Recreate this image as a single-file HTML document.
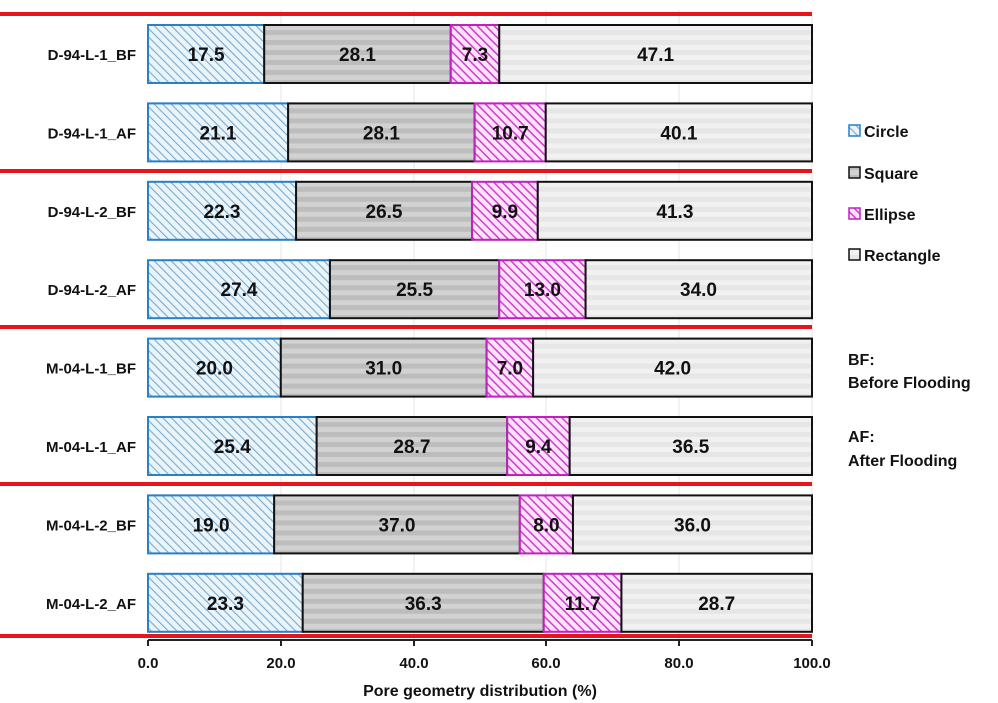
<!DOCTYPE html>
<html><head><meta charset="utf-8"><style>body{margin:0;background:#fff}svg{display:block}text{font-family:"Liberation Sans",Arial,sans-serif;font-weight:bold}</style></head><body>
<svg width="998" height="703" xmlns="http://www.w3.org/2000/svg">
<defs>
<pattern id="pc" width="6" height="6" patternUnits="userSpaceOnUse" patternTransform="rotate(-45)"><rect width="6" height="6" fill="#eaf4fb"/><rect width="1.1" height="6" fill="#7aa9cc"/></pattern>
<pattern id="ps" width="10" height="10" patternUnits="userSpaceOnUse"><rect width="10" height="10" fill="#d2d2d2"/><rect y="5" width="10" height="5" fill="#bdbdbd"/></pattern>
<pattern id="pe" width="6" height="6" patternUnits="userSpaceOnUse" patternTransform="rotate(-45)"><rect width="6" height="6" fill="#fbe3f9"/><rect width="1.5" height="6" fill="#d43bd0"/></pattern>
<pattern id="pr" width="10" height="10" patternUnits="userSpaceOnUse"><rect width="10" height="10" fill="#f1f1f1"/><rect y="5" width="10" height="5" fill="#e6e6e6"/></pattern>
</defs>
<g stroke="#e4e4e4" stroke-width="1"><line x1="281" y1="10" x2="281" y2="640"/><line x1="414" y1="10" x2="414" y2="640"/><line x1="546" y1="10" x2="546" y2="640"/><line x1="679" y1="10" x2="679" y2="640"/><line x1="812" y1="10" x2="812" y2="640"/></g>

<g font-size="19" text-anchor="middle" fill="#111">
<g transform="translate(0,25)">
<rect x="148" y="0" width="116.2" height="58" fill="url(#pc)" stroke="#2a7fc9" stroke-width="2"/>
<rect x="264.2" y="0" width="186.58" height="58" fill="url(#ps)" stroke="#111" stroke-width="2"/>
<rect x="450.78" y="0" width="48.47" height="58" fill="url(#pe)" stroke="#c020c0" stroke-width="2"/>
<rect x="499.25" y="0" width="312.75" height="58" fill="url(#pr)" stroke="#111" stroke-width="2"/>
<text x="206.1" y="36">17.5</text><text x="357.5" y="36">28.1</text><text x="475" y="36">7.3</text><text x="655.6" y="36">47.1</text>
<text x="136" y="35" font-size="15" text-anchor="end">D-94-L-1_BF</text></g>

<g transform="translate(0,103.4)">
<rect x="148" y="0" width="140.1" height="58" fill="url(#pc)" stroke="#2a7fc9" stroke-width="2"/>
<rect x="288.1" y="0" width="186.58" height="58" fill="url(#ps)" stroke="#111" stroke-width="2"/>
<rect x="474.68" y="0" width="71.05" height="58" fill="url(#pe)" stroke="#c020c0" stroke-width="2"/>
<rect x="545.73" y="0" width="266.27" height="58" fill="url(#pr)" stroke="#111" stroke-width="2"/>
<text x="218" y="36">21.1</text><text x="381.4" y="36">28.1</text><text x="510.2" y="36">10.7</text><text x="678.9" y="36">40.1</text>
<text x="136" y="35" font-size="15" text-anchor="end">D-94-L-1_AF</text></g>

<g transform="translate(0,181.8)">
<rect x="148" y="0" width="148.07" height="58" fill="url(#pc)" stroke="#2a7fc9" stroke-width="2"/>
<rect x="296.07" y="0" width="175.96" height="58" fill="url(#ps)" stroke="#111" stroke-width="2"/>
<rect x="472.03" y="0" width="65.74" height="58" fill="url(#pe)" stroke="#c020c0" stroke-width="2"/>
<rect x="537.77" y="0" width="274.23" height="58" fill="url(#pr)" stroke="#111" stroke-width="2"/>
<text x="222" y="36">22.3</text><text x="384" y="36">26.5</text><text x="504.9" y="36">9.9</text><text x="674.9" y="36">41.3</text>
<text x="136" y="35" font-size="15" text-anchor="end">D-94-L-2_BF</text></g>

<g transform="translate(0,260.2)">
<rect x="148" y="0" width="181.94" height="58" fill="url(#pc)" stroke="#2a7fc9" stroke-width="2"/>
<rect x="329.94" y="0" width="169.32" height="58" fill="url(#ps)" stroke="#111" stroke-width="2"/>
<rect x="499.26" y="0" width="86.32" height="58" fill="url(#pe)" stroke="#c020c0" stroke-width="2"/>
<rect x="585.58" y="0" width="226.42" height="58" fill="url(#pr)" stroke="#111" stroke-width="2"/>
<text x="239" y="36">27.4</text><text x="414.6" y="36">25.5</text><text x="542.4" y="36">13.0</text><text x="698.5" y="36">34.0</text>
<text x="136" y="35" font-size="15" text-anchor="end">D-94-L-2_AF</text></g>

<g transform="translate(0,338.6)">
<rect x="148" y="0" width="132.8" height="58" fill="url(#pc)" stroke="#2a7fc9" stroke-width="2"/>
<rect x="280.8" y="0" width="205.84" height="58" fill="url(#ps)" stroke="#111" stroke-width="2"/>
<rect x="486.64" y="0" width="46.48" height="58" fill="url(#pe)" stroke="#c020c0" stroke-width="2"/>
<rect x="533.12" y="0" width="278.88" height="58" fill="url(#pr)" stroke="#111" stroke-width="2"/>
<text x="214.4" y="36">20.0</text><text x="383.7" y="36">31.0</text><text x="509.9" y="36">7.0</text><text x="672.6" y="36">42.0</text>
<text x="136" y="35" font-size="15" text-anchor="end">M-04-L-1_BF</text></g>

<g transform="translate(0,417)">
<rect x="148" y="0" width="168.66" height="58" fill="url(#pc)" stroke="#2a7fc9" stroke-width="2"/>
<rect x="316.66" y="0" width="190.57" height="58" fill="url(#ps)" stroke="#111" stroke-width="2"/>
<rect x="507.23" y="0" width="62.42" height="58" fill="url(#pe)" stroke="#c020c0" stroke-width="2"/>
<rect x="569.65" y="0" width="242.35" height="58" fill="url(#pr)" stroke="#111" stroke-width="2"/>
<text x="232.3" y="36">25.4</text><text x="411.9" y="36">28.7</text><text x="538.4" y="36">9.4</text><text x="690.8" y="36">36.5</text>
<text x="136" y="35" font-size="15" text-anchor="end">M-04-L-1_AF</text></g>

<g transform="translate(0,495.4)">
<rect x="148" y="0" width="126.16" height="58" fill="url(#pc)" stroke="#2a7fc9" stroke-width="2"/>
<rect x="274.16" y="0" width="245.68" height="58" fill="url(#ps)" stroke="#111" stroke-width="2"/>
<rect x="519.84" y="0" width="53.12" height="58" fill="url(#pe)" stroke="#c020c0" stroke-width="2"/>
<rect x="572.96" y="0" width="239.04" height="58" fill="url(#pr)" stroke="#111" stroke-width="2"/>
<text x="211.1" y="36">19.0</text><text x="397" y="36">37.0</text><text x="546.4" y="36">8.0</text><text x="692.5" y="36">36.0</text>
<text x="136" y="35" font-size="15" text-anchor="end">M-04-L-2_BF</text></g>

<g transform="translate(0,573.8)">
<rect x="148" y="0" width="154.71" height="58" fill="url(#pc)" stroke="#2a7fc9" stroke-width="2"/>
<rect x="302.71" y="0" width="241.03" height="58" fill="url(#ps)" stroke="#111" stroke-width="2"/>
<rect x="543.74" y="0" width="77.69" height="58" fill="url(#pe)" stroke="#c020c0" stroke-width="2"/>
<rect x="621.43" y="0" width="190.57" height="58" fill="url(#pr)" stroke="#111" stroke-width="2"/>
<text x="225.4" y="36">23.3</text><text x="423.2" y="36">36.3</text><text x="582.6" y="36">11.7</text><text x="716.7" y="36">28.7</text>
<text x="136" y="35" font-size="15" text-anchor="end">M-04-L-2_AF</text></g>
</g>

<g fill="#e8141b"><rect x="0" y="12" width="812" height="4"/><rect x="0" y="169" width="812" height="4"/><rect x="0" y="325" width="812" height="4"/><rect x="0" y="482" width="812" height="4"/><rect x="0" y="634" width="812" height="4"/></g>
<line x1="148" y1="640" x2="812" y2="640" stroke="#222" stroke-width="2"/>
<g stroke="#222" stroke-width="2"><line x1="148" y1="640" x2="148" y2="646"/><line x1="281" y1="640" x2="281" y2="646"/><line x1="414" y1="640" x2="414" y2="646"/><line x1="546" y1="640" x2="546" y2="646"/><line x1="679" y1="640" x2="679" y2="646"/><line x1="812" y1="640" x2="812" y2="646"/></g>
<g font-size="15" text-anchor="middle" fill="#111"><text x="148" y="668">0.0</text><text x="281" y="668">20.0</text><text x="414" y="668">40.0</text><text x="546" y="668">60.0</text><text x="679" y="668">80.0</text><text x="812" y="668">100.0</text>
<text x="480" y="696" font-size="16">Pore geometry distribution (%)</text></g>
<g font-size="16" fill="#111">
<rect x="849" y="125" width="11" height="11" fill="url(#pc)" stroke="#2a7fc9" stroke-width="1.5"/><text x="864" y="137">Circle</text>
<rect x="849" y="167" width="11" height="11" fill="url(#ps)" stroke="#111" stroke-width="1.5"/><text x="864" y="179">Square</text>
<rect x="849" y="208" width="11" height="11" fill="url(#pe)" stroke="#c020c0" stroke-width="1.5"/><text x="864" y="220">Ellipse</text>
<rect x="849" y="249" width="11" height="11" fill="url(#pr)" stroke="#111" stroke-width="1.5"/><text x="864" y="261">Rectangle</text>
<text x="848" y="365">BF:</text><text x="848" y="388">Before Flooding</text>
<text x="848" y="442">AF:</text><text x="848" y="466">After Flooding</text>
</g>
</svg></body></html>
